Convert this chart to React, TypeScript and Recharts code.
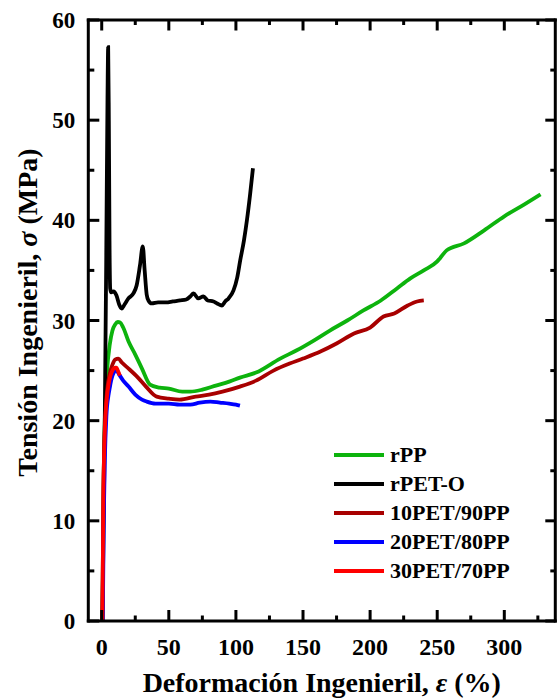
import React from 'react';
import { LineChart, Line, XAxis, YAxis, Legend, Label, ReferenceLine } from 'recharts';

const FONT = '"Liberation Serif", "Times New Roman", Times, serif';

const seriesNames = ['rPP', 'rPET-O', '10PET/90PP', '20PET/80PP', '30PET/70PP'];
const seriesColors = ['#0db30d', '#000000', '#a80000', '#0000ff', '#ff0000'];

const rppStrain = [0.5, 1.2, 2, 3, 4, 6, 8, 10, 12, 13.7, 16, 20, 25, 30, 36, 43, 50, 60, 66, 75, 85, 95, 103, 115, 133, 145, 158, 170, 183, 195, 208, 220, 230, 240, 250, 252, 257, 270, 285, 300, 315, 327];
const rppStress = [0, 12, 18.5, 22.5, 25, 27.6, 29, 29.6, 29.85, 29.8, 29.3, 27.9, 26.6, 25.2, 23.6, 23.3, 23.2, 22.9, 22.9, 23.1, 23.5, 23.9, 24.3, 24.8, 26.2, 27.0, 28.0, 29.0, 30.0, 31.0, 32.0, 33.2, 34.2, 35.0, 35.9, 36.2, 37.0, 37.7, 39.0, 40.4, 41.6, 42.6];

const petStrain = [0.5, 2, 3.3, 4.3, 4.8, 5.3, 5.8, 6.3, 7, 8.7, 11, 13, 14.9, 17, 19.9, 23.6, 26, 28.5, 30.6, 32, 33.5, 34.8, 37.3, 42, 48, 53, 58.4, 63, 66, 68.4, 72, 75.8, 79, 83.3, 86, 89.6, 92, 94.5, 98.2, 101, 103.2, 106, 108.2, 110.5, 112.7];
const petStress = [0, 16, 35, 52, 57.3, 50, 38, 33.2, 32.8, 32.9, 32.5, 31.6, 31.2, 31.6, 32.2, 32.7, 33.5, 35.5, 37.4, 35, 32.6, 32.0, 31.7, 31.8, 31.8, 31.9, 32.0, 32.1, 32.4, 32.7, 32.2, 32.4, 32.0, 31.9, 31.7, 31.5, 31.9, 32.2, 33.0, 34.3, 36.0, 38.0, 40.0, 42.5, 45.2];

const b10Strain = [0.5, 1.2, 2, 3, 4, 6, 8, 10, 12.4, 15, 20, 27, 33, 41, 50, 58, 70, 80, 90, 103, 115, 128, 140, 150, 163, 175, 188, 200, 210, 218, 228, 235, 240];
const b10Stress = [0, 12, 18, 21.3, 23, 24.7, 25.6, 26.1, 26.2, 25.8, 25.2, 24.3, 23.4, 22.4, 22.2, 22.1, 22.4, 22.6, 22.9, 23.4, 24.0, 25.0, 25.7, 26.2, 26.9, 27.7, 28.7, 29.3, 30.4, 30.7, 31.5, 31.9, 32.0];

const b20Strain = [0.8, 1.5, 2.3, 3.5, 5, 6, 7, 8, 9, 10, 11, 13, 16, 20, 25, 30, 33.6, 40, 50, 58, 66, 73, 81, 88, 95, 100, 103];
const b20Stress = [0, 10, 16, 20.5, 22.5, 23.3, 24, 24.5, 24.8, 25, 25.0, 24.6, 24.0, 23.4, 22.6, 22.1, 21.9, 21.7, 21.7, 21.6, 21.6, 21.8, 21.9, 21.8, 21.7, 21.6, 21.5];

const b30Strain = [0.5, 0.8, 1.2, 2, 3, 4, 5, 6, 7, 8, 9, 10, 11, 12, 13.5];
const b30Stress = [0, 5, 12, 17.5, 20.8, 22.5, 23.5, 24.2, 24.7, 25.0, 25.2, 25.3, 25.3, 25.0, 24.5];

const xTicks = [0, 25, 50, 75, 100, 125, 150, 175, 200, 225, 250, 275, 300, 325];
const yTicks = [0, 5, 10, 15, 20, 25, 30, 35, 40, 45, 50, 55, 60];
const xDomain = [-10, 338];
const yDomain = [0, 60];

const CHART_W = 557;
const CHART_H = 700;
const MARGIN = { top: 20, right: 1.7, left: 0, bottom: 0 };

const zip = (xs: number[], ys: number[]) => xs.map((x, i) => ({ x, y: ys[i] }));
const allSeries = [
  zip(rppStrain, rppStress),
  zip(petStrain, petStress),
  zip(b10Strain, b10Stress),
  zip(b20Strain, b20Stress),
  zip(b30Strain, b30Stress),
];

const isMajorX = (v: number) => v % 50 === 0;
const isMajorY = (v: number) => v % 10 === 0;

const renderBottomTick = (p: any) => {
  const v = p.payload.value;
  if (!isMajorX(v)) return <g key={`b${v}`} />;
  return (
    <text key={`b${v}`} x={Number(p.x)} y={Number(p.y) + 33.5} textAnchor="middle" fontFamily={FONT} fontWeight="bold" fontSize={24} fill="#000">
      {v}
    </text>
  );
};

const renderLeftTick = (p: any) => {
  const v = p.payload.value;
  if (!isMajorY(v)) return <g key={`l${v}`} />;
  return (
    <text key={`l${v}`} x={Number(p.x) - 13} y={Number(p.y)} dy="0.35em" textAnchor="end" fontFamily={FONT} fontWeight="bold" fontSize={23} fill="#000">
      {v}
    </text>
  );
};

// X-axis title plus the inward tick marks on the bottom and top edges
const XTitle = (props: any) => {
  const vb = props.viewBox;
  const bottom = vb.y;
  const top = MARGIN.top;
  const px = (v: number) => vb.x + ((v - xDomain[0]) / (xDomain[1] - xDomain[0])) * vb.width;
  return (
    <g>
      {xTicks.map((v) => {
        const major = isMajorX(v);
        const x = px(v);
        return (
          <g key={`xm${v}`}>
            <line x1={x} x2={x} y1={bottom} y2={bottom - (major ? 11 : 5.5)} stroke="#000" strokeWidth={3} />
            <line x1={x} x2={x} y1={top} y2={top + (major ? 10.5 : 5)} stroke="#000" strokeWidth={3} />
          </g>
        );
      })}
      <text x={vb.x + vb.width / 2} y={vb.y + 71} textAnchor="middle" fontFamily={FONT} fontWeight="bold" fontSize={28} fill="#000">
        Deformación Ingenieril, <tspan fontStyle="italic">ε</tspan> (%)
      </text>
    </g>
  );
};

// Y-axis title plus the inward tick marks on the left and right edges
const YTitle = (props: any) => {
  const vb = props.viewBox;
  const left = vb.x + vb.width;
  const right = CHART_W - MARGIN.right;
  const py = (v: number) => vb.y + vb.height - ((v - yDomain[0]) / (yDomain[1] - yDomain[0])) * vb.height;
  const cx = vb.x + 37;
  const cy = vb.y + vb.height / 2 - 8;
  return (
    <g>
      {yTicks.map((v) => {
        const major = isMajorY(v);
        const y = py(v);
        return (
          <g key={`ym${v}`}>
            <line x1={left} x2={left + (major ? 11 : 6)} y1={y} y2={y} stroke="#000" strokeWidth={3} />
            <line x1={right} x2={right - (major ? 10 : 5)} y1={y} y2={y} stroke="#000" strokeWidth={3} />
          </g>
        );
      })}
      <text x={cx} y={cy} transform={`rotate(-90, ${cx}, ${cy})`} textAnchor="middle" fontFamily={FONT} fontWeight="bold" fontSize={28} fill="#000">
        Tensión Ingenieril, <tspan fontStyle="italic">σ</tspan> (MPa)
      </text>
    </g>
  );
};

const LegendContent = () => (
  <div>
    {seriesNames.map((name, i) => (
      <div key={name} style={{ display: 'flex', alignItems: 'center', height: 29 }}>
        <div style={{ width: 50, height: 4, background: seriesColors[i] }} />
        <span style={{ marginLeft: 6, fontFamily: FONT, fontWeight: 'bold', fontSize: 22, color: '#000', whiteSpace: 'nowrap' }}>
          {name}
        </span>
      </div>
    ))}
  </div>
);

const frame = { xAxisId: 'b', yAxisId: 'l', stroke: '#000', strokeWidth: 3, strokeLinecap: 'square' as const, ifOverflow: 'visible' as const };

export default function App() {
  return (
    <div style={{ position: 'fixed', left: 0, top: 0, width: CHART_W, height: CHART_H, background: '#fff' }}>
      <LineChart width={CHART_W} height={CHART_H} margin={MARGIN}>
        <XAxis
          xAxisId="b"
          dataKey="x"
          type="number"
          domain={xDomain}
          ticks={xTicks}
          interval={0}
          height={79}
          tickSize={0}
          tickMargin={0}
          tickLine={false}
          axisLine={false}
          tick={renderBottomTick}
        >
          <Label content={XTitle} />
        </XAxis>
        <YAxis
          yAxisId="l"
          type="number"
          domain={yDomain}
          ticks={yTicks}
          interval={0}
          width={88.3}
          tickSize={0}
          tickMargin={0}
          tickLine={false}
          axisLine={false}
          tick={renderLeftTick}
        >
          <Label content={YTitle} />
        </YAxis>
        {allSeries.map((data, i) => (
          <Line
            key={seriesNames[i]}
            xAxisId="b"
            yAxisId="l"
            data={data}
            dataKey="y"
            name={seriesNames[i]}
            stroke={seriesColors[i]}
            strokeWidth={3.8}
            type="monotone"
            dot={false}
            activeDot={false}
            isAnimationActive={false}
          />
        ))}
        <ReferenceLine {...frame} x={xDomain[0]} />
        <ReferenceLine {...frame} x={xDomain[1]} />
        <ReferenceLine {...frame} y={yDomain[0]} />
        <ReferenceLine {...frame} y={yDomain[1]} />
        <Legend
          layout="vertical"
          align="center"
          verticalAlign="middle"
          content={LegendContent}
          wrapperStyle={{ position: 'absolute', left: 334, top: 440.5, width: 220 }}
        />
      </LineChart>
    </div>
  );
}
